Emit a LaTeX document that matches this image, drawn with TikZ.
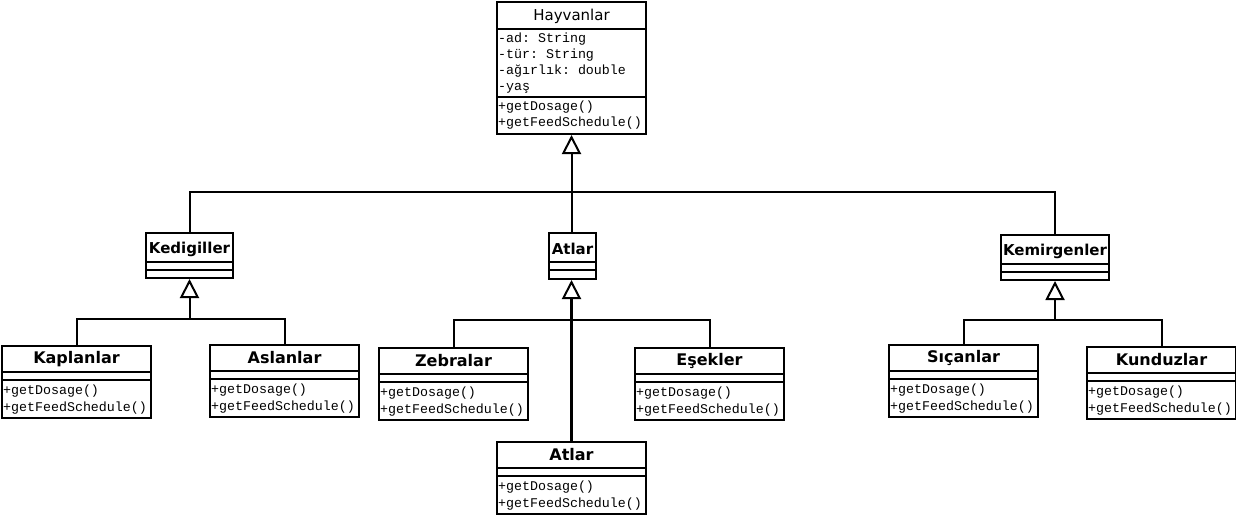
\documentclass[tikz,border=0pt]{standalone}
\usepackage{fontspec}
\setmainfont{DejaVu Sans}
\setmonofont{Liberation Mono}
\usetikzlibrary{arrows.meta}
\tikzset{
 box/.style={draw, line width=2pt, inner sep=0pt, anchor=north west, fill=white},
 sep/.style={line width=2pt},
 conn/.style={line width=2pt},
 inh/.style={line width=2pt, -{Triangle[open, length=19pt, width=19pt, line width=2pt]}},
 ttl/.style={font=\bfseries\fontsize{16}{19}\selectfont, inner sep=0pt},
 ttlm/.style={font=\bfseries\fontsize{15}{18}\selectfont, inner sep=0pt},
 ttlr/.style={font=\fontsize{15}{18}\selectfont, inner sep=0pt},
 mth/.style={font=\ttfamily\fontsize{13.3}{17}\selectfont, align=left, anchor=north west, inner sep=0pt},
 att/.style={font=\ttfamily\fontsize{13.3}{16}\selectfont, align=left, anchor=north west, inner sep=0pt},
}
\newcommand{\leafbox}[5]{%
 \node[box, minimum width=#4pt, minimum height=72pt] (#1) at (#2,#3) {};
 \draw[sep] ([yshift=-27pt]#1.north west) -- ([yshift=-27pt]#1.north east);
 \draw[sep] ([yshift=-35pt]#1.north west) -- ([yshift=-35pt]#1.north east);
 \node[ttl] (#1t) at ([yshift=-14pt]#1.north) {#5};
 \node[mth] (#1m) at ([xshift=2pt,yshift=-39.5pt]#1.north west) {+getDosage()\\+getFeedSchedule()};
}
\newcommand{\midbox}[6]{%
 \node[box, minimum width=#4pt, minimum height=#5pt] (#1) at (#2,#3) {};
 \draw[sep] ([yshift=-30pt]#1.north west) -- ([yshift=-30pt]#1.north east);
 \draw[sep] ([yshift=-38pt]#1.north west) -- ([yshift=-38pt]#1.north east);
 \node[ttlm] (#1t) at ([yshift=-17pt]#1.north) {#6};
}
\begin{document}
\begin{tikzpicture}[x=1pt,y=-1pt]
\fill[white] (0,0) rectangle (1236,514);
\useasboundingbox (0,0) rectangle (1236,514);
% root
\node[box, minimum width=149pt, minimum height=132pt] (hay) at (496,1) {};
\draw[sep] ([yshift=-28pt]hay.north west) -- ([yshift=-28pt]hay.north east);
\draw[sep] ([yshift=-96pt]hay.north west) -- ([yshift=-96pt]hay.north east);
\node[ttlr] (hayt) at ([yshift=-15pt]hay.north) {Hayvanlar};
\node[att] (haya) at ([xshift=2pt,yshift=-32pt]hay.north west) {-ad: String\\-tür: String\\-ağırlık: double\\-yaş};
\node[att] (haym) at ([xshift=2pt,yshift=-100pt]hay.north west) {+getDosage()\\+getFeedSchedule()};
% middle level
\midbox{ked}{145}{232}{87}{45}{Kedigiller}
\midbox{atl}{548}{232}{47}{46}{Atlar}
\midbox{kem}{1000}{234}{108}{45}{Kemirgenler}
% leaves
\leafbox{kap}{1}{345}{149}{Kaplanlar}
\leafbox{asl}{209}{344}{149}{Aslanlar}
\leafbox{zeb}{378}{347}{149}{Zebralar}
\leafbox{esk}{634}{347}{149}{Eşekler}
\leafbox{atb}{496}{441}{149}{Atlar}
\leafbox{sic}{888}{344}{149}{Sıçanlar}
\leafbox{kun}{1086}{346}{149}{Kunduzlar}
% connectors
\coordinate (topbus) at (570,192);
\coordinate (kbus) at (189,319);
\coordinate (abus) at (570,320);
\coordinate (mbus) at (1054,320);
\draw[inh] (atl.north -| hay.south) -- (hay.south);
\draw[conn] (ked.north) |- (kem.north |- topbus) -- (kem.north);
\draw[inh] (ked.south |- kbus) -- (ked.south);
\draw[conn] (kap.north) |- (asl.north |- kbus) -- (asl.north);
\draw[inh, line width=3pt] (atb.north) -- (atb.north |- atl.south);
\draw[conn] (zeb.north) |- (esk.north |- abus) -- (esk.north);
\draw[inh] (kem.south |- mbus) -- (kem.south);
\draw[conn] (sic.north) |- (kun.north |- mbus) -- (kun.north);
\end{tikzpicture}
\end{document}
